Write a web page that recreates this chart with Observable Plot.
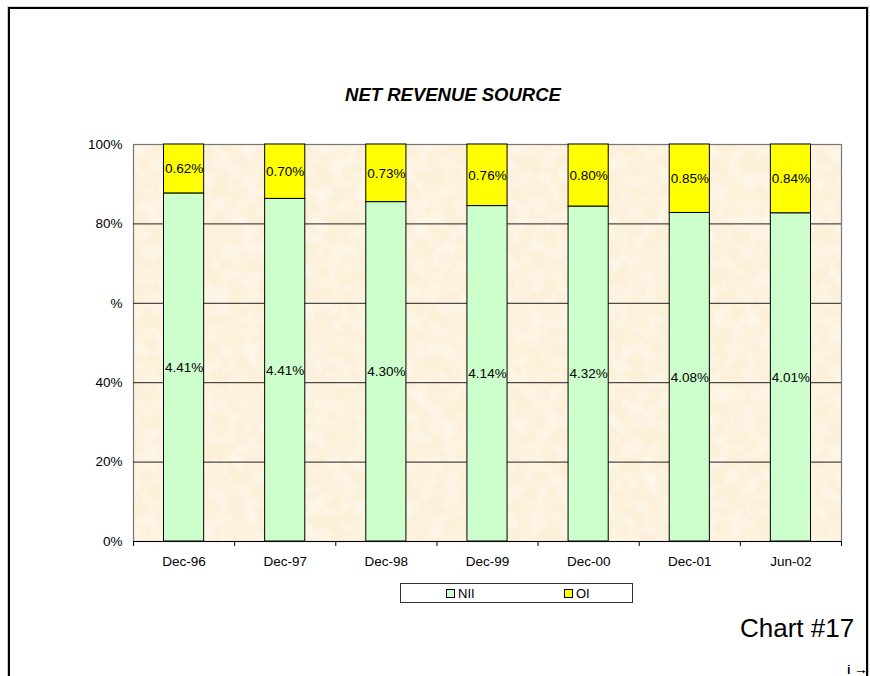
<!DOCTYPE html>
<html>
<head>
<meta charset="utf-8">
<script src="https://cdn.jsdelivr.net/npm/d3@7"></script>
<script src="https://cdn.jsdelivr.net/npm/@observablehq/plot@0.6"></script>
<style>
  html, body { margin: 0; padding: 0; overflow: hidden; background: #fff; font-family: Arial, "Liberation Sans", sans-serif; }
  #page { position: relative; width: 870px; height: 676px; overflow: hidden; background: #fff; }
  #frame { position: absolute; left: 8px; top: 7px; width: 856px; height: 720px;
           border: 2px solid #000; box-shadow: 0 0 0 1px #d0d0d0; }
  #chart { position: absolute; left: 0; top: 0; }
  #title { position: absolute; left: 0; width: 906px; top: 86px; text-align: center;
           font-size: 18.5px; line-height: 18px; font-weight: bold; font-style: italic; color: #000; }
  #legend { position: absolute; left: 400px; top: 583px; width: 231px; height: 18px;
            border: 1px solid #333; background: #fff; font-size: 13px; line-height: 13px; }
  .item { position: absolute; top: 3px; white-space: nowrap; }
  .sw { display: inline-block; width: 7px; height: 7px; border: 1px solid #000;
        vertical-align: 0px; margin-right: 3px; }
  #caption { position: absolute; left: 740px; top: 615px; font-size: 26px; line-height: 26px; color: #000; }
</style>
</head>
<body>
<div id="page">
  <div id="frame"></div>
  <div id="chart"></div>
  <div id="title">NET REVENUE SOURCE</div>
  <div id="legend"></div>
  <div id="caption">Chart #17</div>
</div>
<script>
// Net revenue components (% of assets) by period
const periods = ["Dec-96", "Dec-97", "Dec-98", "Dec-99", "Dec-00", "Dec-01", "Jun-02"];
const nii = [4.41, 4.41, 4.30, 4.14, 4.32, 4.08, 4.01];
const oi  = [0.62, 0.70, 0.73, 0.76, 0.80, 0.85, 0.84];
const seriesNames = ["NII", "OI"];
const seriesColors = ["#ccffcc", "#ffff00"];
const yTicks = [0, 0.2, 0.4, 0.6, 0.8, 1];
const yTickLabels = ["0%", "20%", "40%", "%", "80%", "100%"];

// 100% stacked rows: each period normalised to its total
const rows = [];
periods.forEach((p, i) => {
  const total = nii[i] + oi[i];
  let base = 0;
  [nii[i], oi[i]].forEach((v, k) => {
    const share = v / total;
    rows.push({period: p, i, source: seriesNames[k], value: v, y1: base, y2: base + share});
    base += share;
  });
});

const chart = Plot.plot({
  width: 870,
  height: 676,
  marginTop: 144,
  marginBottom: 135,
  marginLeft: 133,
  marginRight: 29,
  style: {fontFamily: "Arial, 'Liberation Sans', sans-serif", fontSize: "13.5px", color: "#000", background: "transparent"},
  x: {type: "linear", domain: [0, periods.length]},
  y: {domain: [0, 1]},
  color: {domain: seriesNames, range: seriesColors},
  marks: [
    Plot.frame({fill: "#fcf0d9"}),
    Plot.frame({fill: "#fff", className: "paper"}),
    Plot.frame({stroke: "#777", strokeWidth: 1.2}),
    Plot.ruleY(yTicks.filter(t => t > 0 && t < 1), {stroke: "#222", strokeWidth: 1}),
    Plot.rectY(rows, {
      x1: "i", x2: d => d.i + 1, y1: "y1", y2: "y2",
      fill: "source", stroke: "#000", strokeWidth: 1,
      insetLeft: 30.5, insetRight: 30.5
    }),
    Plot.text(rows, {
      x: d => d.i + 0.5, y: d => (d.y1 + d.y2) / 2,
      text: d => d3.format(".2f")(d.value) + "%",
      fill: "#000", fontSize: 13.5
    }),
    Plot.ruleY([0], {stroke: "#000", strokeWidth: 1.2}),
    // category boundary tick marks
    Plot.axisX({ticks: d3.range(periods.length + 1), tickSize: 5, tickFormat: () => "", stroke: "#000"}),
    // category names centred in each slot
    Plot.axisX({ticks: d3.range(periods.length).map(i => i + 0.5), tickSize: 0, tickPadding: 15,
                tickFormat: v => periods[Math.round(v - 0.5)], fontSize: 13.5}),
    Plot.axisY({ticks: yTicks, tickSize: 0, tickPadding: 11,
                tickFormat: d => yTickLabels[yTicks.indexOf(d)], fontSize: 13.5})
  ]
});

// faint paper-like mottling for the plot background
const svg = d3.select(chart);
const filter = svg.insert("defs", ":first-child").append("filter")
  .attr("id", "paper-texture").attr("x", 0).attr("y", 0).attr("width", "100%").attr("height", "100%");
filter.append("feTurbulence").attr("type", "fractalNoise").attr("baseFrequency", 0.07)
  .attr("numOctaves", 3).attr("seed", 7);
filter.append("feColorMatrix").attr("type", "matrix")
  .attr("values", "0 0 0 0 1  0 0 0 0 1  0 0 0 0 1  1.1 0 0 0 -0.42");
filter.append("feComposite").attr("in2", "SourceGraphic").attr("operator", "in");
svg.selectAll(".paper rect, rect.paper").attr("filter", "url(#paper-texture)");

document.getElementById("chart").appendChild(chart);

// legend
const legend = document.getElementById("legend");
const legendLeft = [45, 163];
seriesNames.forEach((name, k) => {
  const item = document.createElement("div");
  item.className = "item";
  item.style.left = legendLeft[k] + "px";
  const sw = document.createElement("span");
  sw.className = "sw";
  sw.style.background = seriesColors[k];
  item.appendChild(sw);
  item.appendChild(document.createTextNode(name));
  legend.appendChild(item);
});
</script>
</body>
</html>
